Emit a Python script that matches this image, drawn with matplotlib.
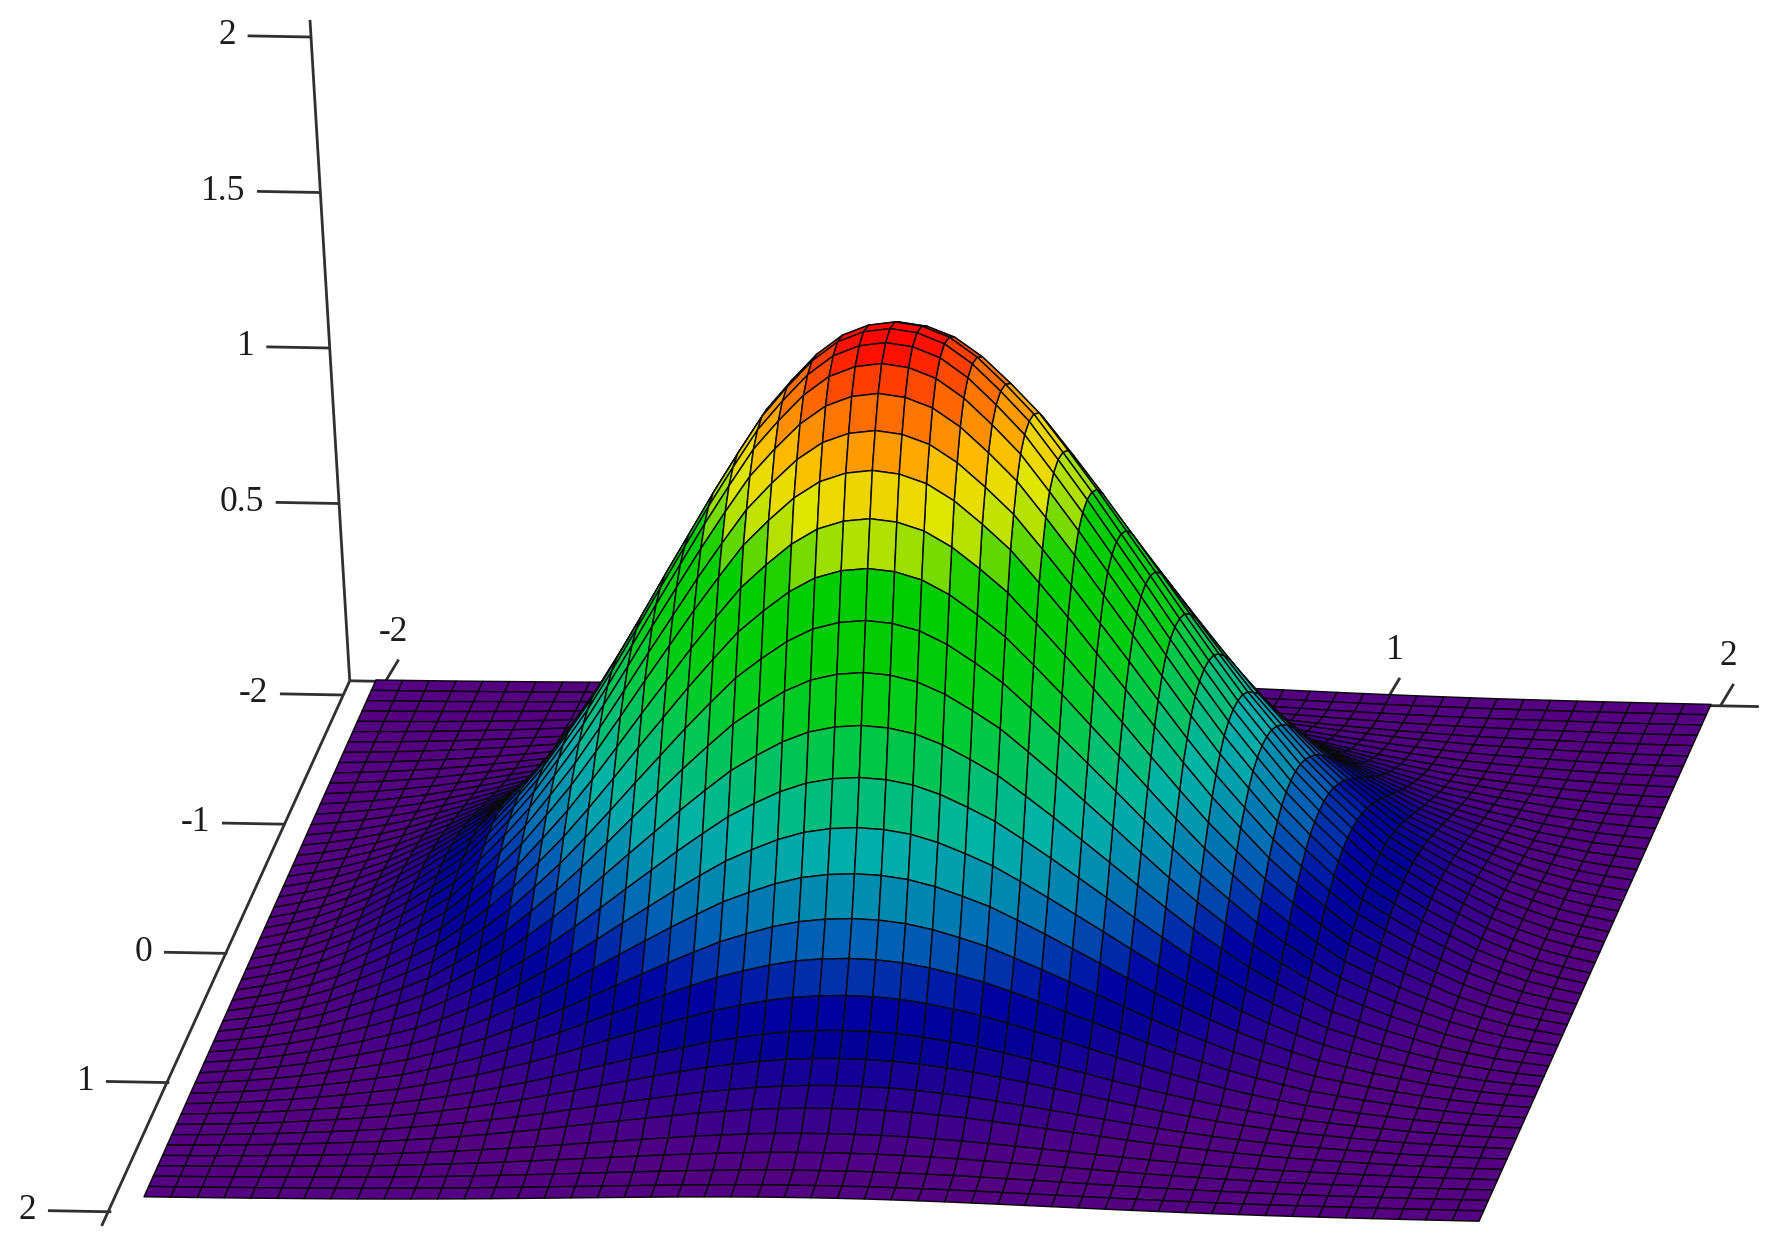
import numpy as np
import matplotlib
matplotlib.use("Agg")
import matplotlib.pyplot as plt
from matplotlib.colors import LinearSegmentedColormap, Normalize
from mpl_toolkits.mplot3d import proj3d

# height of the surface above its floor (peak -> edge)
half_section_y = [2.0, 1.988, 1.954, 1.891, 1.805, 1.71, 1.588, 1.461, 1.327, 1.193, 1.056, 0.922,
                  0.794, 0.679, 0.568, 0.473, 0.387, 0.308, 0.251, 0.197, 0.157, 0.109, 0.081, 0.057,
                  0.042, 0.036]
half_section_x = [2.0, 1.988, 1.954, 1.891, 1.805, 1.71, 1.588, 1.461, 1.327, 1.193, 1.056, 0.922,
                  0.794, 0.679, 0.568, 0.473, 0.387, 0.308, 0.251, 0.197, 0.15, 0.105, 0.07, 0.04,
                  0.018, 0.0]
y_section = half_section_y[:0:-1] + half_section_y
x_section = half_section_x[:0:-1] + half_section_x
floor_z = -0.07

# colour bands by height above floor
band_height = [0.0, 0.05, 0.069, 0.095, 0.133, 0.177, 0.224, 0.28, 0.35, 0.43, 0.52, 0.62, 0.74, 0.86, 0.99,
               1.12, 1.26, 1.39, 1.45, 1.52, 1.59, 1.65, 1.71, 1.76, 1.85, 1.92, 1.97, 2.0]
band_rgb = [(85, 0, 130), (82, 0, 130), (78, 0, 132), (70, 0, 135), (55, 0, 140), (40, 0, 145), (20, 0, 150),
            (0, 0, 150), (0, 0, 160), (0, 50, 170), (0, 100, 180), (0, 140, 175), (0, 178, 170), (0, 190, 120),
            (0, 200, 70), (0, 205, 20), (0, 205, 0), (0, 205, 0), (100, 215, 0), (175, 225, 0), (225, 230, 0),
            (240, 210, 0), (255, 185, 0), (255, 150, 0), (255, 105, 0), (255, 60, 0), (255, 15, 0), (255, 0, 0)]

x_ticks = [-2, 1, 2]
y_ticks = [-2, -1, 0, 1, 2]
z_ticks = [0.5, 1, 1.5, 2]
z_tick_labels = ["0.5", "1", "1.5", "2"]

W, H = 1785, 1251
plt.rcParams['font.family'] = ['Liberation Serif', 'DejaVu Serif']

fig = plt.figure(figsize=(W / 100, H / 100), dpi=100, facecolor='white')
ax = fig.add_axes([0, 0, 1, 1], projection='3d', computed_zorder=False)
ax.set_proj_type('ortho')
ax.set_axis_off()
ax.set_xticks([])
ax.set_yticks([])
ax.set_zticks([])

# axis-parallel camera calibrated on the picture: (x, y, z) -> pixels
origin = np.array([926.2, 928.8])
ex = np.array([333.75, 6.1])
ey = np.array([-58.0, 129.2])
ez = np.array([-18.7, -311.0])
row_x = np.array([ex[0], ey[0], ez[0]])
row_y = np.array([ex[1], ey[1], ez[1]])
view = np.cross(row_x, row_y)
view = view / np.linalg.norm(view)
M = np.array([[*row_x, origin[0]],
              [*row_y, origin[1]],
              [*(-view), 0.0],
              [0.0, 0.0, 0.0, 1.0]])
ax.get_proj = lambda: M
ax.apply_aspect = lambda position=None: None

xg = np.linspace(-2, 2, len(x_section))
yg = np.linspace(-2, 2, len(y_section))
X, Y = np.meshgrid(xg, yg)
peak = max(y_section)
Z = floor_z + np.outer(y_section, x_section) / peak

stops = [(h / peak, tuple(c / 255 for c in rgb)) for h, rgb in zip(band_height, band_rgb)]
cmap = LinearSegmentedColormap.from_list('bands', stops, N=512)
ax.plot_surface(X, Y, Z, rstride=1, cstride=1, cmap=cmap, norm=Normalize(floor_z, floor_z + peak),
                edgecolor='#0a0a0a', linewidth=1.05, antialiased=True, zorder=2)

line_kw = dict(color='#303030', lw=2.0, solid_capstyle='butt', zorder=1)
text_kw = dict(color='#1c1c1c', fontsize=25.5, zorder=3, transform=ax.transData)
ax_x, ax_y = -2.077, -1.99


def label(x, y, z, s, **kw):
    px, py, _ = proj3d.proj_transform(x, y, z, M)
    ax.text2D(px, py, s, **kw, **text_kw)


# axis lines
ax.plot([ax_x, ax_x], [ax_y, ax_y], [floor_z, 2.055], **line_kw)
ax.plot([ax_x, 2.145], [ax_y, ax_y], [floor_z, floor_z], **line_kw)
ax.plot([ax_x, ax_x - 0.01], [ax_y, 2.23], [floor_z, floor_z], **line_kw)

# z ticks
for v, s in zip(z_ticks, z_tick_labels):
    ax.plot([ax_x, ax_x - 0.19], [ax_y, ax_y], [v, v], **line_kw)
    label(ax_x - 0.225, ax_y, v, s, ha='right', va='center')

# y ticks
for v in y_ticks:
    yy = v + 0.12
    ax.plot([ax_x, ax_x - 0.19], [yy, yy], [floor_z, floor_z], **line_kw)
    label(ax_x - 0.225, yy, floor_z, str(v), ha='right', va='center')

# x ticks
for v in x_ticks:
    xx = v + 0.03
    ax.plot([xx, xx + 0.01], [ax_y, ax_y - 0.17], [floor_z, floor_z], **line_kw)
    label(xx - 0.02, ax_y - 0.25, floor_z, str(v), ha='center', va='bottom')

ax.viewLim.intervalx = (0, W)
ax.viewLim.intervaly = (H, 0)
fig.savefig('out.png', dpi=100, facecolor='white')
